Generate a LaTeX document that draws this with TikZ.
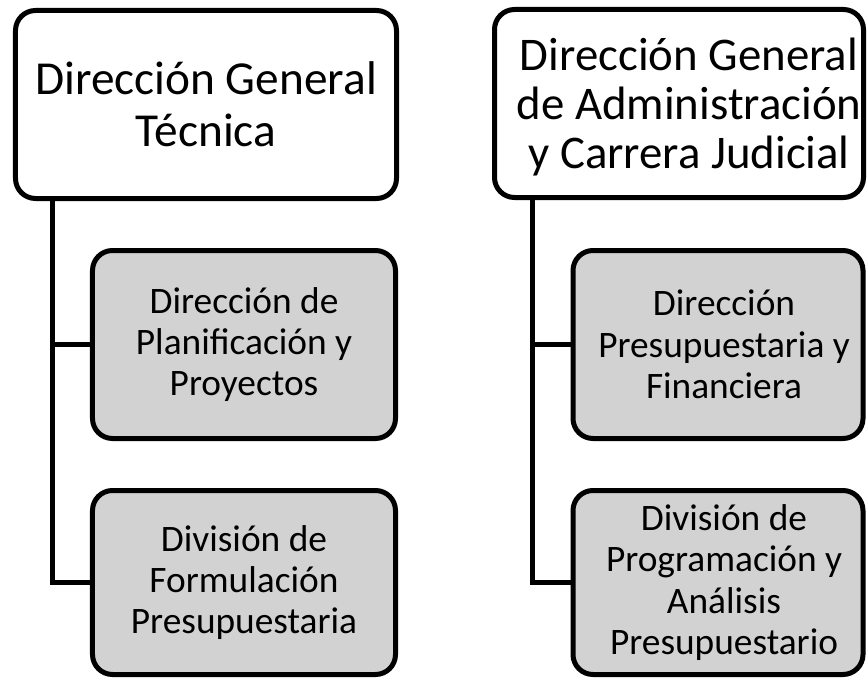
\documentclass[tikz,border=0pt]{standalone}
\usepackage{fontspec}
\setmainfont{Carlito}
\definecolor{subgray}{RGB}{210,210,210}
\begin{document}
\lineskiplimit=-100pt\relax
\lineskip=0pt\relax
\begin{tikzpicture}[x=1bp,y=-1bp,
  box/.style={draw=black, line width=5bp, rounded corners=20bp, inner sep=0pt, align=center},
  topbox/.style={box, font=\fontsize{47.5}{52}\selectfont},
  sub/.style={box, fill=subgray, font=\fontsize{37.5}{41.5}\selectfont},
  toptext/.style={inner sep=0pt, align=center, font=\fontsize{47}{49}\selectfont},
  subtext/.style={inner sep=0pt, align=center, font=\fontsize{37.5}{41.5}\selectfont},
  conn/.style={line width=5bp}]
\useasboundingbox (0,0) rectangle (868,679);
% top boxes
\node[topbox, minimum width=381bp, minimum height=188bp] (lt) at (206,104.5) {Dirección General\\Técnica};
\node[topbox, minimum width=369bp, minimum height=188bp] (rt) at (679,103.5) {};
\node[toptext] (rtt) at (689,107) {Dirección General\\de Administración\\y Carrera Judicial};
% left children
\node[sub, minimum width=303bp, minimum height=188bp] (lc1) at (244,344.5) {Dirección de\\Planificación y\\Proyectos};
\node[sub, minimum width=303bp, minimum height=184bp] (lc2) at (244,582.5) {División de\\Formulación\\Presupuestaria};
% right children
\node[sub, minimum width=290bp, minimum height=188bp] (rc1) at (718,344.5) {};
\node[subtext] (rc1t) at (724,344.5) {Dirección\\Presupuestaria y\\Financiera};
\node[sub, minimum width=290bp, minimum height=184bp] (rc2) at (718,582.5) {};
\node[subtext] (rc2t) at (724,582.5) {División de\\Programación y\\Análisis\\Presupuestario};
% connectors
\coordinate (lx) at (52,0);
\coordinate (rx) at (532,0);
\draw[conn] (lt.south -| lx) |- (lc1.west);
\draw[conn] (lt.south -| lx) |- (lc2.west);
\draw[conn] (rt.south -| rx) |- (rc1.west);
\draw[conn] (rt.south -| rx) |- (rc2.west);
\end{tikzpicture}
\end{document}
